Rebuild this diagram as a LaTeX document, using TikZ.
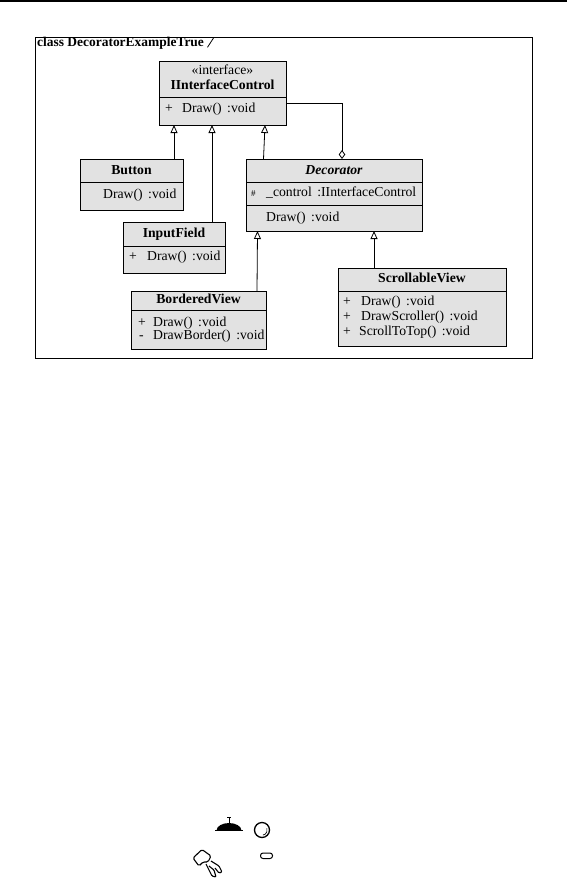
\documentclass[tikz,border=0pt]{standalone}
\usepackage{fontspec}
\setmainfont{Liberation Serif}
\usetikzlibrary{arrows.meta}
\definecolor{boxgray}{RGB}{226,226,226}
\tikzset{
  box/.style={draw=black, fill=boxgray, line width=0.8pt, inner sep=0pt, outer sep=0pt, anchor=north west},
  frm/.style={draw=black, line width=1pt, inner sep=0pt, outer sep=0pt, anchor=north west},
  txt/.style={inner sep=0pt, font=\fontsize{13.7}{15}\selectfont, text height=9.5pt, text depth=3pt},
  lft/.style={txt, anchor=west},
  ctr/.style={txt, anchor=center},
  bld/.style={ctr, font=\fontsize{13.7}{15}\selectfont\bfseries},
  gen/.style={-{Triangle[open, length=8pt, width=7pt]}, line width=0.8pt},
  agg/.style={{Diamond[open, length=9pt, width=6.5pt]}-, line width=0.8pt},
}
\newcommand{\gp}{\hspace{0.4em}}
\begin{document}
\begin{tikzpicture}[x=1pt,y=-1pt]
\useasboundingbox (0,0) rectangle (567,880);
% top rule
\coordinate (tl) at (0,0.8);
\coordinate (tr) at (567,0.8);
\draw[line width=1.5pt] (tl) -- (tr);
% frame
\node[frm, minimum width=497pt, minimum height=320pt] (frame) at (35,38) {};
\node[txt, anchor=west, font=\fontsize{13.45}{15}\selectfont\bfseries] (title) at (37,43) {class DecoratorExampleTrue};
\coordinate (tagA) at (207.5,47.3);
\coordinate (tagB) at (213.5,38);
\draw[line width=0.8pt] (tagA) -- (tagB);

% IInterfaceControl
\node[box, minimum width=127pt, minimum height=36pt] (ich) at (159,61) {};
\node[box, minimum width=127pt, minimum height=28pt] (ico) at (159,97) {};
\node[ctr] (icst) at (222.5,71) {«interface»};
\node[bld] (icn) at (222.5,86) {IInterfaceControl};
\node[lft] (icv) at (165,109) {+};
\node[lft] (icm) at (182,109) {Draw()\gp:void};

% Button
\node[box, minimum width=103pt, minimum height=23pt] (bth) at (80,159) {};
\node[box, minimum width=103pt, minimum height=28pt] (bto) at (80,182) {};
\node[bld] (btn) at (131.5,171.5) {Button};
\node[lft] (btm) at (103,195) {Draw()\gp:void};

% InputField
\node[box, minimum width=102pt, minimum height=24pt] (ifh) at (123,222) {};
\node[box, minimum width=102pt, minimum height=27pt] (ifo) at (123,246) {};
\node[bld] (ifn) at (174,234.5) {InputField};
\node[lft] (ifv) at (129,257) {+};
\node[lft] (ifm) at (147,257) {Draw()\gp:void};

% Decorator
\node[box, minimum width=176pt, minimum height=23pt] (dch) at (246,159) {};
\node[box, minimum width=176pt, minimum height=23pt] (dca) at (246,182) {};
\node[box, minimum width=176pt, minimum height=26pt] (dco) at (246,205) {};
\node[ctr, font=\fontsize{13.7}{15}\selectfont\bfseries\itshape] (dcn) at (334,171) {Decorator};
\node[lft, font=\fontsize{9}{11}\selectfont] (dcv) at (251,193.5) {\#};
\node[lft] (dcat) at (266,193.5) {\_control\gp:IInterfaceControl};
\node[lft] (dcm) at (266,218) {Draw()\gp:void};

% BorderedView
\node[box, minimum width=135pt, minimum height=19pt] (bvh) at (131,291) {};
\node[box, minimum width=135pt, minimum height=39pt] (bvo) at (131,310) {};
\node[bld] (bvn) at (198.5,300.5) {BorderedView};
\node[lft] (bvv1) at (138,323.5) {+};
\node[lft] (bvm1) at (153,323.5) {Draw()\gp:void};
\node[lft] (bvv2) at (139,336.5) {-};
\node[lft] (bvm2) at (153,336.5) {DrawBorder()\gp:void};

% ScrollableView
\node[box, minimum width=168pt, minimum height=23pt] (svh) at (338,268) {};
\node[box, minimum width=168pt, minimum height=55pt] (svo) at (338,291) {};
\node[bld] (svn) at (422,279.5) {ScrollableView};
\node[lft] (svv1) at (343,302) {+};
\node[lft] (svm1) at (361,302) {Draw()\gp:void};
\node[lft] (svv2) at (343,317) {+};
\node[lft] (svm2) at (361,317) {DrawScroller()\gp:void};
\node[lft] (svv3) at (343,332.5) {+};
\node[lft] (svm3) at (359,332.5) {ScrollToTop()\gp:void};

% connectors
\draw[gen] ([xshift=94pt]bth.north west) -- ([xshift=15pt]ico.south west);
\draw[gen] ([xshift=89pt]ifh.north west) -- ([xshift=53pt]ico.south west);
\draw[gen] ([xshift=17.5pt]dch.north west) -- ([xshift=106pt]ico.south west);
\draw[gen] ([xshift=126pt]bvh.north west) -- ([xshift=11.5pt]dco.south west);
\draw[gen] ([xshift=36pt]svh.north west) -- ([xshift=128pt]dco.south west);
\draw[agg] ([xshift=96pt]dch.north west) |- ([yshift=8pt]ico.east);

% scan marks at the bottom
\fill (216.5,830.5) arc[start angle=180, end angle=0, x radius=12.5pt, y radius=7.5pt] -- cycle;
\fill (215,829.8) rectangle (243,831.2);
\draw[line width=1pt] (229,823) -- (229,817.5);
\draw[line width=0.8pt] (227,817.3) -- (231,817.3);
\draw[line width=1.3pt] (262,830) circle[radius=7.5pt];
\draw[line width=0.7pt] (262,830) ++(-80:5.2pt) arc[start angle=-80, end angle=20, radius=5.2pt];
\draw[line width=1pt, rounded corners=2.5pt] (260.5,853) rectangle (272.5,858.5);
\draw[line width=1.1pt, rounded corners=1.5pt] (193,858) -- (202,849.5) -- (211,856) -- (208,862) -- (203,862) -- (199,866) -- cycle;
\draw[line width=1.1pt, rounded corners=1pt] (206,864) -- (212,876) -- (216,877) -- (214,870) -- (209,866);
\draw[line width=1.1pt, rounded corners=1pt] (211,861) -- (219,866) -- (222,872) -- (219,873) -- (215,868);
\end{tikzpicture}
\end{document}
